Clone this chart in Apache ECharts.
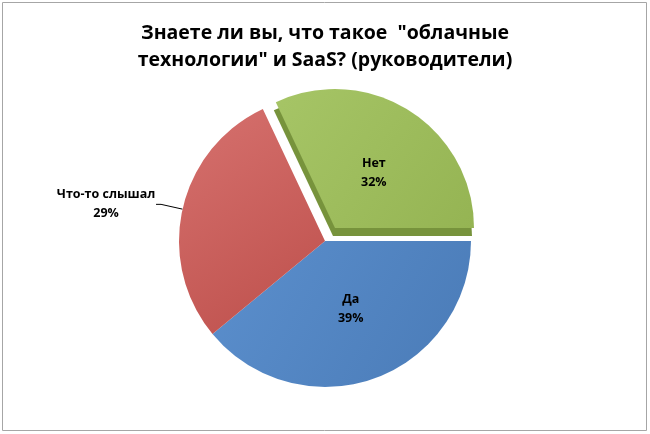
<!DOCTYPE html>
<html>
<head>
    <meta charset="UTF-8">
    <title>pie</title>
    <style type="text/css">
        html, body {
            margin: 0;
            padding: 0;
            background: #fff;
        }

        #chart {
            width: 650px;
            height: 434px;
        }
    </style>
    <script type="text/javascript" src="https://cdn.jsdelivr.net/npm/echarts@6/dist/echarts.min.js"></script>
</head>
<body>
<div id="chart"></div>
<script type="text/javascript">
    var titleText = 'Знаете ли вы, что такое  "облачные\nтехнологии" и SaaS? (руководители)';
    var categories = ['Да', 'Что-то слышал', 'Нет'];
    var values = [39, 29, 32];
    var colors = [
        ['#5b8fcd', '#4a7bb7'],
        ['#d6716e', '#bd4f4b'],
        ['#a6c566', '#95b453']
    ];

    var font = '"Open Sans", "DejaVu Sans", sans-serif';

    function grad(i) {
        return new echarts.graphic.LinearGradient(0, 0, 1, 1, [
            {offset: 0, color: colors[i][0]},
            {offset: 1, color: colors[i][1]}
        ]);
    }

    var hidden = {
        itemStyle: {color: 'transparent'},
        label: {show: false},
        labelLine: {show: false}
    };

    // main pie: Да и Что-то слышал, Нет оставлен пустым
    var mainData = categories.map(function (name, i) {
        if (i === 2) {
            return Object.assign({name: name, value: values[i]}, hidden);
        }
        var d = {name: name, value: values[i], itemStyle: {color: grad(i)}};
        if (i === 1) {
            d.label = {
                position: 'outside',
                distanceToLabelLine: 0,
                formatter: function (p) {
                    return '{t|' + p.name + '}\n{t|' + p.value + '%}';
                }
            };
            d.labelLine = {show: true, length: 22, length2: 5, lineStyle: {color: '#000', width: 1}};
        }
        return d;
    });

    // выдвинутый сектор Нет
    var sideData = categories.map(function (name, i) {
        if (i !== 2) {
            return Object.assign({name: name, value: values[i]}, hidden);
        }
        return {
            name: name, value: values[i],
            itemStyle: {
                color: grad(i),
                shadowColor: '#77933c',
                shadowBlur: 0,
                shadowOffsetX: -2,
                shadowOffsetY: 8
            }
        };
    });

    var labelBase = {
        show: true,
        position: 'inside',
        color: '#000',
        fontFamily: font,
        fontSize: 12.5,
        fontWeight: 'bold',
        lineHeight: 19,
        formatter: function (p) {
            return p.name + '\n' + p.value + '%';
        },
        rich: {
            t: {
                width: 100,
                align: 'center',
                color: '#000',
                fontFamily: font,
                fontSize: 12.5,
                fontWeight: 'bold',
                lineHeight: 19
            }
        }
    };

    var chart = echarts.init(document.getElementById('chart'));
    chart.setOption({
        animation: false,
        title: {
            text: titleText,
            left: 'center',
            top: 15,
            textStyle: {
                fontFamily: font,
                fontSize: 19.5,
                fontWeight: 'bold',
                color: '#000',
                lineHeight: 27
            }
        },
        graphic: [{
            type: 'rect',
            shape: {x: 2.5, y: 2.5, width: 644, height: 428},
            style: {fill: 'none', stroke: '#a6a6a6', lineWidth: 1}
        }],
        series: [{
            type: 'pie',
            center: [325, 241],
            radius: 146,
            startAngle: 0,
            clockwise: true,
            silent: true,
            label: labelBase,
            labelLine: {show: false},
            labelLayout: function (p) {
                return p.dataIndex === 0 ? {dy: -4} : {};
            },
            emphasis: {disabled: true},
            data: mainData
        }, {
            type: 'pie',
            center: [335, 228],
            radius: 139,
            startAngle: 0,
            clockwise: true,
            silent: true,
            label: labelBase,
            labelLine: {show: false},
            labelLayout: {dy: 6},
            emphasis: {disabled: true},
            data: sideData
        }]
    });
</script>
</body>
</html>
